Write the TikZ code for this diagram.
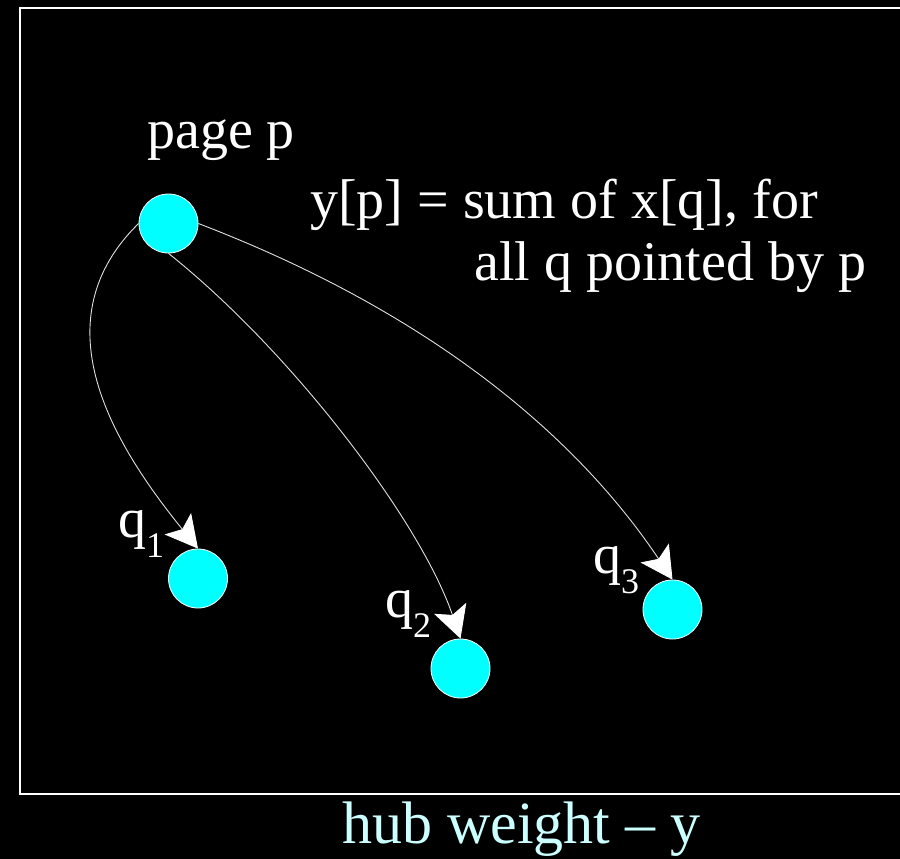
\documentclass[tikz,border=0pt]{standalone}
\usepackage{fontspec}
\setmainfont{Liberation Serif}
\usetikzlibrary{arrows.meta}
\definecolor{pagecyan}{RGB}{0,255,255}
\definecolor{hubcyan}{RGB}{204,255,255}
\tikzset{
  pagenode/.style={circle, fill=pagecyan, draw=white, line width=0.8pt, minimum size=59pt, inner sep=0pt},
  link/.style={draw=white!88!black, line width=0.9pt, -{Stealth[length=32pt,width=34pt,inset=7pt,color=white]}},
  bigtext/.style={anchor=base west, inner sep=0pt, text=white, font=\fontsize{56}{64}\selectfont},
}
\begin{document}
\begin{tikzpicture}[x=1pt,y=-1pt]
% black slide, frame open on the right
\path[use as bounding box, fill=black] (0,0) rectangle (900,859);
\draw[white, line width=1.6pt] (905,8) -- (20,8) -- (20,794) -- (905,794);
% page p and the pages it points to
\node[pagenode] (p) at (168.5,223.5) {};
\foreach \n/\x/\y in {1/198/578.5, 2/460.5/668.5, 3/672.5/609.5}
  \node[pagenode] (q\n) at (\x,\y) {};
% labels
\node[bigtext] (plabel) at (147,148) {page p};
\node[bigtext] (sumline) at (310,218) {y[p] = sum of x[q], for};
\node[bigtext] (sumrest) at (474,280) {all q pointed by p};
\foreach \n/\x/\y in {1/118/537, 2/385/617, 3/593/573}
  \node[bigtext] (lq\n) at (\x,\y) {q\raisebox{-20pt}{\fontsize{36}{36}\selectfont\n}};
% links from p
\draw[link] (p.west) .. controls (40,320) and (110,440) .. (q1.north);
\draw[link] (p.south) .. controls (290,350) and (420,520) .. (q2.north);
\draw[link] (p.east) .. controls (432,313) and (577,437) .. (q3.north);
% caption under the frame
\node[anchor=base west, inner sep=0pt, text=hubcyan, font=\fontsize{60}{70}\selectfont] (caption) at (342,843) {hub weight -- y};
\end{tikzpicture}
\end{document}
